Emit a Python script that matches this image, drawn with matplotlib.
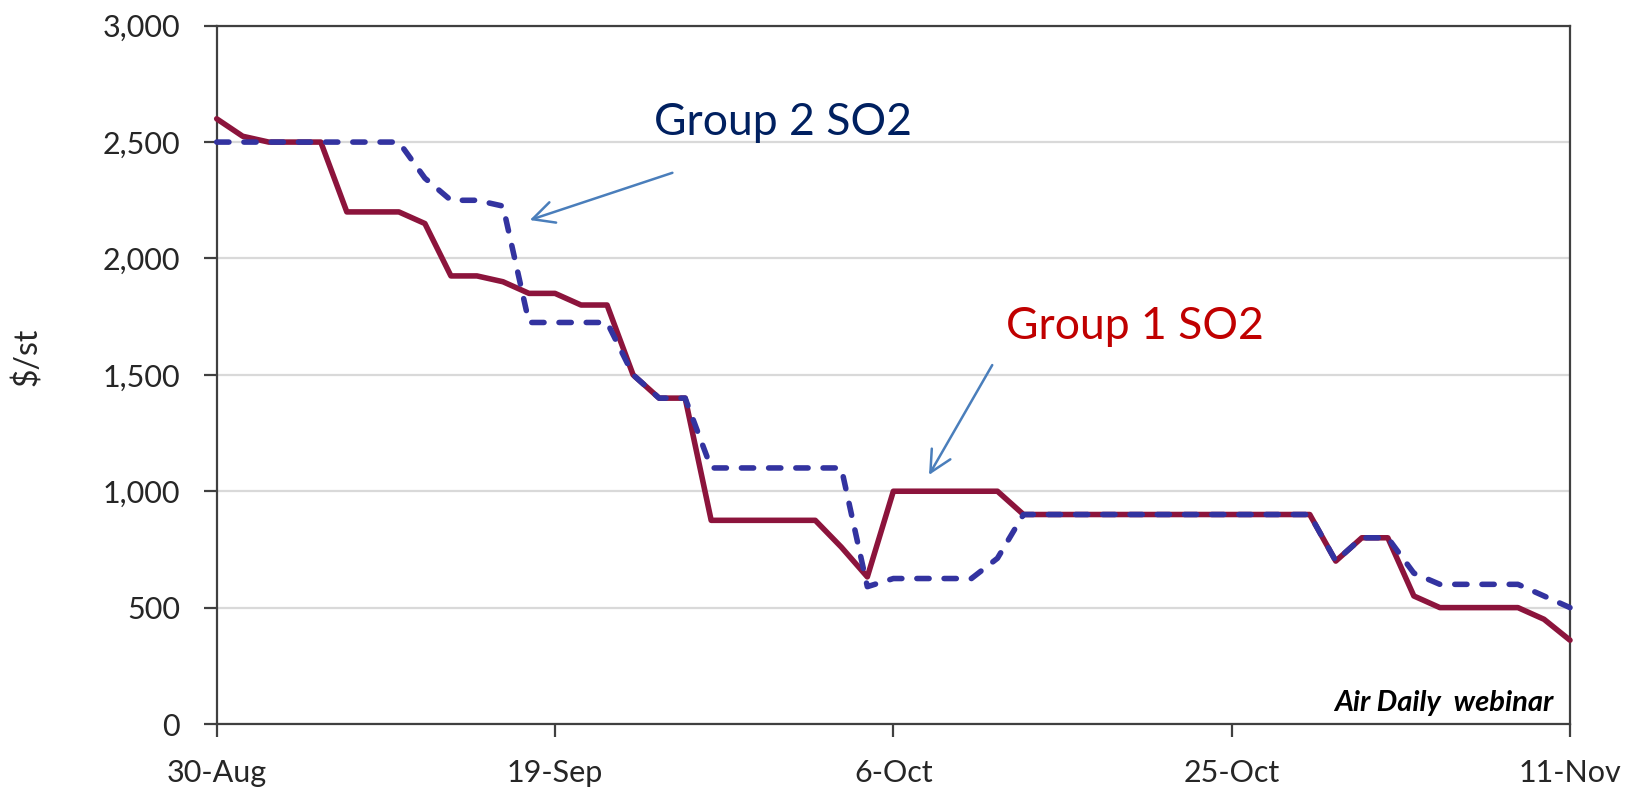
import matplotlib
matplotlib.use("Agg")
import matplotlib.pyplot as plt

plt.rcParams['font.family'] = ['Lato', 'DejaVu Sans']

# trading days, labels every 13 sessions
date_labels = ['30-Aug', '19-Sep', '6-Oct', '25-Oct', '11-Nov']
label_step = 13

# $/st, one value per trading day
group1_so2 = [2600, 2525, 2500, 2500, 2500, 2200, 2200, 2200, 2150, 1925,
              1925, 1900, 1850, 1850, 1800, 1800, 1500, 1400, 1400, 875,
              875, 875, 875, 875, 760, 632, 1000, 1000, 1000, 1000,
              1000, 900, 900, 900, 900, 900, 900, 900, 900, 900,
              900, 900, 900, 700, 800, 800, 550, 500, 500, 500,
              500, 450, 360]
group2_so2 = [2500, 2500, 2500, 2500, 2500, 2500, 2500, 2500, 2345, 2250,
              2250, 2225, 1725, 1725, 1725, 1725, 1500, 1400, 1400, 1100,
              1100, 1100, 1100, 1100, 1100, 590, 625, 625, 625, 625,
              712, 900, 900, 900, 900, 900, 900, 900, 900, 900,
              900, 900, 900, 700, 800, 800, 648, 600, 600, 600,
              600, 550, 500]

y_ticks = [0, 500, 1000, 1500, 2000, 2500, 3000]

RED = '#8C143C'
BLUE = '#3333A0'
ARROW = '#4A7EBB'
AXIS = '#404040'
TXT = '#262626'

fig = plt.figure(figsize=(16.33, 7.93), dpi=100)
ax = fig.add_axes([216.7 / 1633, 69 / 793, 1353.3 / 1633, 698.3 / 793])

x = list(range(len(group1_so2)))
ax.plot(x, group1_so2, color=RED, lw=4.0, solid_joinstyle='round',
        solid_capstyle='round', zorder=3, clip_on=False)
ax.plot(x, group2_so2, color=BLUE, lw=4.0, dashes=(2.2, 2.7),
        dash_capstyle='round', dash_joinstyle='round', zorder=4, clip_on=False)

ax.set_xlim(0, len(x) - 1)
ax.set_ylim(0, 3000)
ax.set_yticks(y_ticks)
ax.set_yticklabels([f'{v:,}' for v in y_ticks])
ax.set_xticks(list(range(0, len(x), label_step)))
ax.set_xticklabels(date_labels)

ax.grid(axis='y', color='#D9D9D9', lw=1.6, zorder=0)
ax.set_axisbelow(True)
for sp in ax.spines.values():
    sp.set_color(AXIS)
    sp.set_linewidth(1.6)
ax.tick_params(axis='y', direction='out', length=9.5, width=1.6, color=AXIS,
               pad=17, labelsize=22, labelcolor=TXT)
ax.tick_params(axis='x', direction='out', length=9.5, width=1.6, color=AXIS,
               pad=16, labelsize=22, labelcolor=TXT)

fig.text(27 / 1633, 1 - 357 / 793, '$/st', rotation=90, ha='center',
         va='center', fontsize=23, color=TXT)

# callouts
head = '->,head_length=0.7,head_width=0.35'
ax.text(21.75, 2530, 'Group 2 SO2', ha='center', va='baseline',
        fontsize=32, color='#002060')
ax.annotate('', xy=(12.03, 2165), xytext=(17.51, 2368),
            arrowprops=dict(arrowstyle=head, color=ARROW, lw=1.8,
                            mutation_scale=22, shrinkA=0, shrinkB=0))
ax.text(35.27, 1652, 'Group 1 SO2', ha='center', va='baseline',
        fontsize=32, color='#C00000')
ax.annotate('', xy=(27.37, 1070), xytext=(29.8, 1542),
            arrowprops=dict(arrowstyle=head, color=ARROW, lw=1.8,
                            mutation_scale=22, shrinkA=0, shrinkB=0))

ax.text(0.988, 0.019, 'Air Daily  webinar', transform=ax.transAxes,
        ha='right', va='baseline', fontsize=21, fontweight='bold',
        fontstyle='italic', color='black')

fig.savefig('out.png', dpi=100)
